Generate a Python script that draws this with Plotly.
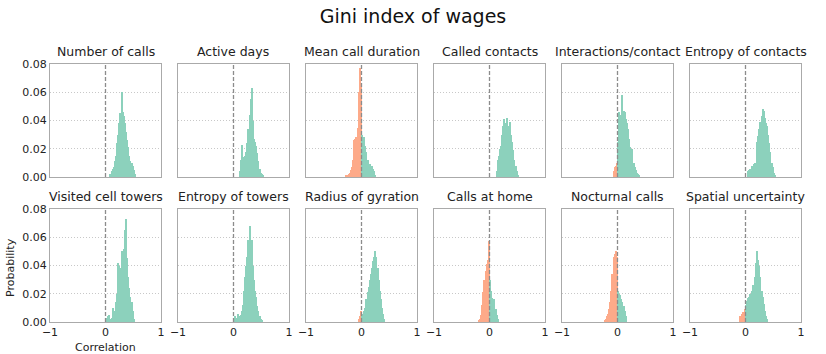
import plotly.graph_objects as go
from plotly.subplots import make_subplots

# histogram bin heights (probability), bins of width 0.02; first value = left edge of first bin
BIN = 0.02

titles = ["Number of calls", "Active days", "Mean call duration", "Called contacts",
          "Interactions/contact", "Entropy of contacts", "Visited cell towers",
          "Entropy of towers", "Radius of gyration", "Calls at home",
          "Nocturnal calls", "Spatial uncertainty"]

left_edges = [0.08, 0.10, -0.28, 0.12, -0.08, 0.04, 0.00, 0.00, -0.06, -0.20, -0.24, -0.10]

number_of_calls = [0.002, 0.004, 0.006, 0.007, 0.011, 0.015, 0.024, 0.030, 0.038, 0.045, 0.060, 0.046,
                   0.043, 0.038, 0.032, 0.026, 0.021, 0.015, 0.011, 0.010, 0.008, 0.005, 0.002]
active_days = [0.004, 0.012, 0.023, 0.014, 0.012, 0.015, 0.018, 0.024, 0.034, 0.044, 0.055, 0.063,
               0.040, 0.027, 0.025, 0.022, 0.017, 0.011, 0.006, 0.003, 0.002, 0.001]
mean_call_duration = [0.001, 0.001, 0.002, 0.003, 0.005, 0.007, 0.012, 0.026, 0.027, 0.028, 0.035, 0.060,
                      0.077, 0.066,
                      0.030, 0.018, 0.028, 0.022, 0.018, 0.012, 0.008, 0.009, 0.008, 0.008, 0.006, 0.004, 0.001]
called_contacts = [0.004, 0.012, 0.015, 0.020, 0.022, 0.030, 0.036, 0.041, 0.038, 0.042, 0.034, 0.036,
                   0.039, 0.030, 0.025, 0.019, 0.012, 0.008, 0.004, 0.001]
interactions_contact = [0.004, 0.007, 0.008, 0.010,
                        0.025, 0.046, 0.042, 0.044, 0.058, 0.047, 0.046, 0.041, 0.038, 0.034, 0.027,
                        0.021, 0.020, 0.020, 0.010, 0.007, 0.005, 0.003, 0.002, 0.001]
entropy_contacts = [0.004, 0.005, 0.006, 0.008, 0.006, 0.009, 0.010, 0.009, 0.025, 0.029, 0.034, 0.039,
                    0.043, 0.048, 0.047, 0.042, 0.038, 0.036, 0.030, 0.024, 0.018, 0.010, 0.007, 0.003, 0.001]
visited_towers = [0.002, 0.003, 0.004, 0.005, 0.002, 0.003, 0.010, 0.008, 0.006, 0.014, 0.020, 0.042,
                  0.040, 0.038, 0.050, 0.049, 0.052, 0.065, 0.073, 0.045, 0.032, 0.024, 0.018, 0.014,
                  0.008, 0.002]
entropy_towers = [0.002, 0.004, 0.003, 0.002, 0.006, 0.004, 0.005, 0.008, 0.012, 0.022, 0.032, 0.040,
                  0.046, 0.058, 0.068, 0.052, 0.058, 0.040, 0.030, 0.022, 0.018, 0.011, 0.008, 0.004,
                  0.002, 0.001]
radius_gyration = [0.002, 0.004, 0.008,
                   0.004, 0.006, 0.008, 0.010, 0.016, 0.021, 0.025, 0.030, 0.034, 0.038, 0.043, 0.046,
                   0.050, 0.046, 0.038, 0.030, 0.022, 0.016, 0.010, 0.006, 0.002]
calls_home = [0.001, 0.002, 0.005, 0.012, 0.021, 0.030, 0.036, 0.041, 0.044, 0.057,
              0.030, 0.022, 0.017, 0.016, 0.016, 0.009, 0.005, 0.002]
nocturnal_calls = [0.001, 0.002, 0.004, 0.006, 0.009, 0.014, 0.022, 0.034, 0.046, 0.048, 0.050, 0.046,
                   0.022, 0.020, 0.019, 0.016, 0.014, 0.011, 0.008, 0.004]
spatial_uncertainty = [0.004, 0.006, 0.007, 0.007, 0.009,
                       0.012, 0.015, 0.017, 0.018, 0.020, 0.022, 0.026, 0.024, 0.032, 0.042, 0.050,
                       0.044, 0.040, 0.032, 0.022, 0.018, 0.013, 0.008, 0.004, 0.002]

series = [number_of_calls, active_days, mean_call_duration, called_contacts, interactions_contact,
          entropy_contacts, visited_towers, entropy_towers, radius_gyration, calls_home,
          nocturnal_calls, spatial_uncertainty]

GREEN = "rgb(140,209,188)"
ORANGE = "rgb(253,170,137)"
FONT = "DejaVu Sans"

# plot area at x 50..801, y 64..322 of the 826x354 window
ML, MT, PW, PH = 50, 64, 751, 258


def px_to_paper(sx, sy):
    return (sx - ML) / PW, 1 - (sy - MT) / PH


fig = make_subplots(rows=2, cols=6, subplot_titles=titles,
                    horizontal_spacing=17 / PW, vertical_spacing=32 / PH)

for i, (edge, heights) in enumerate(zip(left_edges, series)):
    r, c = i // 6 + 1, i % 6 + 1
    centers = [edge + BIN * (k + 0.5) for k in range(len(heights))]
    colors = [ORANGE if x < 0 else GREEN for x in centers]
    fig.add_trace(go.Bar(x=centers, y=heights, width=BIN, marker_color=colors,
                         marker_line_width=0, showlegend=False, hoverinfo="x+y"),
                  row=r, col=c)
    fig.add_vline(x=0, line_dash="4px,2px", line_color="#8c8c8c", line_width=1.3, row=r, col=c)
    fig.update_xaxes(range=[-1, 1], tickvals=[-1, 0, 1], ticktext=["\u22121", "0", "1"],
                     showticklabels=(r == 2), showgrid=False, zeroline=False,
                     showline=True, mirror=True, linecolor="#aaaaaa", linewidth=1, ticks="",
                     tickfont=dict(size=11, color="#222"), row=r, col=c)
    fig.update_yaxes(range=[0, 0.08], tickvals=[0, 0.02, 0.04, 0.06, 0.08],
                     ticktext=["0.00", "0.02", "0.04", "0.06", "0.08"],
                     showticklabels=(c == 1), showgrid=True, gridcolor="#c8c8c8", griddash="1px,2px",
                     gridwidth=1, zeroline=False, showline=True, mirror=True,
                     linecolor="#aaaaaa", linewidth=1, ticks="",
                     tickfont=dict(size=11, color="#222"), row=r, col=c)

for ann in fig.layout.annotations:
    ann.font = dict(family=FONT, size=12.5, color="#222")
    ann.yshift = 3

px, py = px_to_paper(10, 268)
fig.add_annotation(text="Probability", x=px, y=py, xref="paper", yref="paper",
                   xanchor="center", yanchor="middle",
                   textangle=-90, showarrow=False, font=dict(family=FONT, size=11, color="#222"))
px, py = px_to_paper(105, 347)
fig.add_annotation(text="Correlation", x=px, y=py, xref="paper", yref="paper",
                   xanchor="center", yanchor="middle",
                   showarrow=False, font=dict(family=FONT, size=11, color="#222"))

fig.update_layout(
    width=826, height=354,
    title=dict(text="Gini index of wages", x=0.5, xanchor="center",
               y=1 - 16 / 354, yanchor="middle",
               font=dict(family=FONT, size=19, color="#111")),
    margin=dict(l=ML, r=826 - ML - PW, t=MT, b=354 - MT - PH),
    plot_bgcolor="white", paper_bgcolor="white",
    font=dict(family=FONT),
    bargap=0,
)

# drop the default page margin so the figure fills the window exactly
fig.write_html("out.html", config={"displayModeBar": False},
               post_script="document.body.style.margin = '0';")
